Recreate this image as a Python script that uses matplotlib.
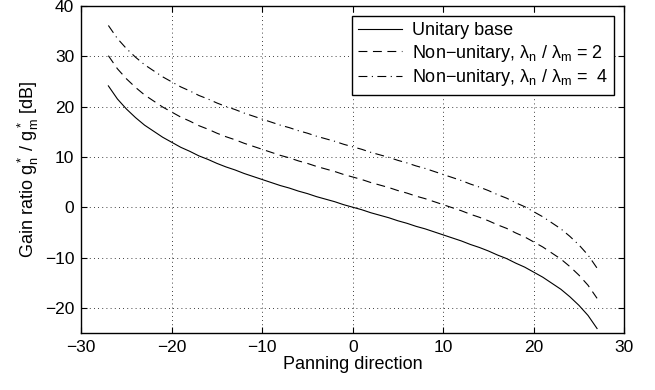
import matplotlib
matplotlib.use("Agg")
import matplotlib.pyplot as plt

plt.rcParams['font.family'] = ['Liberation Sans', 'DejaVu Sans']
plt.rcParams['mathtext.fontset'] = 'custom'
plt.rcParams['mathtext.rm'] = 'Liberation Sans'
plt.rcParams['mathtext.it'] = 'Liberation Sans'
plt.rcParams['mathtext.default'] = 'rm'

# panning direction (degrees)
direction = list(range(-27, 28))

# gain ratio [dB]
unitary = [24.1, 21.5, 19.5, 17.8, 16.3, 15.1, 13.9, 12.9, 11.9, 11.1,
           10.2, 9.5, 8.7, 8.0, 7.4, 6.7, 6.1, 5.5, 4.9, 4.3,
           3.8, 3.2, 2.7, 2.1, 1.6, 1.1, 0.5, 0.0, -0.5, -1.1,
           -1.6, -2.1, -2.7, -3.2, -3.8, -4.3, -4.9, -5.5, -6.1, -6.7,
           -7.4, -8.0, -8.7, -9.5, -10.2, -11.1, -11.9, -12.9, -13.9, -15.1,
           -16.3, -17.8, -19.5, -21.5, -24.1]
ratio_2 = [30.1, 27.5, 25.5, 23.8, 22.3, 21.1, 19.9, 18.9, 17.9, 17.1,
           16.2, 15.5, 14.7, 14.0, 13.4, 12.7, 12.1, 11.5, 10.9, 10.3,
           9.8, 9.2, 8.7, 8.1, 7.6, 7.1, 6.5, 6.0, 5.5, 4.9,
           4.4, 3.9, 3.3, 2.8, 2.2, 1.7, 1.1, 0.5, -0.1, -0.7,
           -1.4, -2.0, -2.7, -3.5, -4.2, -5.1, -5.9, -6.9, -7.9, -9.1,
           -10.3, -11.8, -13.5, -15.5, -18.1]
ratio_4 = [36.1, 33.5, 31.5, 29.8, 28.3, 27.1, 25.9, 24.9, 23.9, 23.1,
           22.2, 21.5, 20.7, 20.0, 19.4, 18.7, 18.1, 17.5, 16.9, 16.3,
           15.8, 15.2, 14.7, 14.1, 13.6, 13.1, 12.5, 12.0, 11.5, 10.9,
           10.4, 9.9, 9.3, 8.8, 8.2, 7.7, 7.1, 6.5, 5.9, 5.3,
           4.6, 4.0, 3.3, 2.5, 1.8, 0.9, 0.1, -0.9, -1.9, -3.1,
           -4.3, -5.8, -7.5, -9.5, -12.1]

labels = ['Unitary base',
          'Non\u2212unitary, \u03bb$_n$ / \u03bb$_m$ = 2',
          'Non\u2212unitary, \u03bb$_n$ / \u03bb$_m$ =  4']

fig = plt.figure(figsize=(6.55, 3.9), dpi=100)
ax = fig.add_axes([0.124, 0.146, 0.829, 0.839])

ax.plot(direction, unitary, color='black', lw=0.8, ls='-', label=labels[0])
ax.plot(direction, ratio_2, color='black', lw=0.8, ls=(0, (8, 5)), label=labels[1])
ax.plot(direction, ratio_4, color='black', lw=0.8, ls=(0, (8, 4, 1, 4)), label=labels[2])

ax.set_xlim(-30, 30)
ax.set_ylim(-25, 40)
ax.set_xticks(range(-30, 31, 10))
ax.set_yticks(range(-20, 41, 10))
ax.grid(True, color='black', ls=(0, (1, 4)), lw=0.6)
ax.tick_params(direction='in', top=True, right=True, length=4, width=0.8,
               labelsize=12.5, pad=5)
for s in ax.spines.values():
    s.set_linewidth(1.0)

ax.set_xlabel('Panning direction', fontsize=13, labelpad=1)
ax.set_ylabel('Gain ratio g$_n^*$ / g$_m^*$ [dB]', fontsize=13, labelpad=3)

leg = ax.legend(loc='upper right', fontsize=13, fancybox=False, framealpha=1,
                edgecolor='black', borderpad=0.35, labelspacing=0.2,
                handlelength=2.4, handletextpad=0.55, borderaxespad=0.55)
leg.get_frame().set_linewidth(1.0)

fig.savefig('out.png', dpi=100)
